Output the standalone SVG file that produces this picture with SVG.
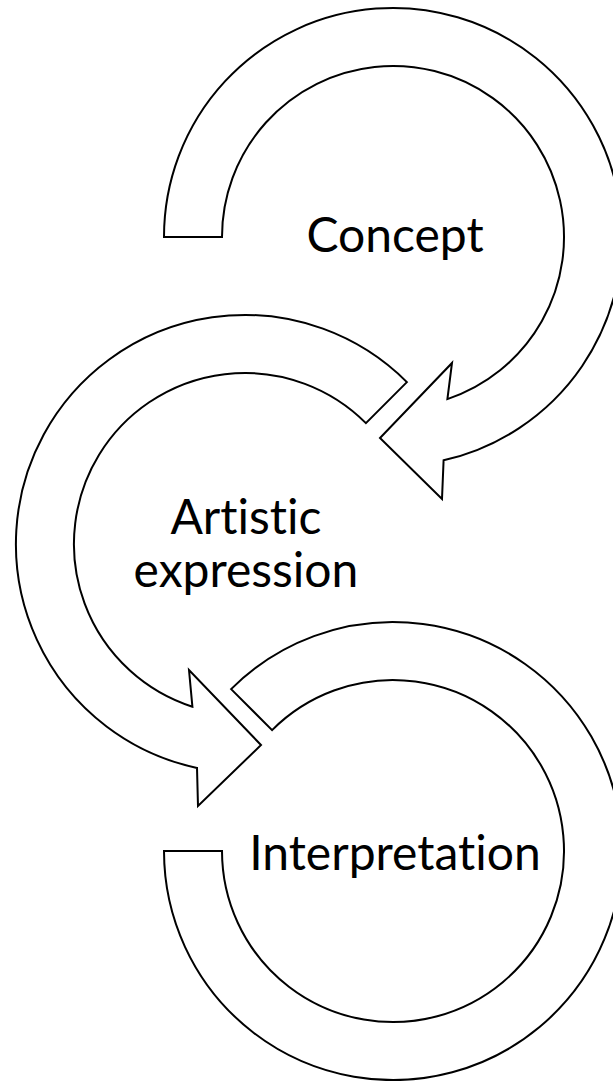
<svg xmlns="http://www.w3.org/2000/svg" width="613" height="1081" viewBox="0 0 613 1081">
  <style>
    .arrow { fill: #ffffff; stroke: #000000; stroke-width: 2; stroke-linejoin: miter; }
    .label { font-family: "Lato", "Noto Sans", "Liberation Sans", sans-serif; font-size: 48px; fill: #000000; text-anchor: middle; font-variant-ligatures: none; font-feature-settings: "liga" 0, "clig" 0; }
  </style>
  <rect width="613" height="1081" fill="#ffffff"/>
  <g id="node-concept">
    <path class="arrow" d="M164,237 A229,229 0 1 1 443.6,460.3 L442,499 L380,438 L452,363 L447.4,399.1 A171,171 0 1 0 222,237 Z"/>
    <text class="label" x="395" y="252">Concept</text>
  </g>
  <g id="node-artistic-expression">
    <path class="arrow" d="M406.9,382.1 A229,229 0 1 0 197,767.9 L198,806 L261,745 L189,670 L192.4,706.7 A171,171 0 1 1 365.9,423.1 Z"/>
    <text class="label" x="246" y="534">Artistic</text>
    <text class="label" x="246" y="587">expression</text>
  </g>
  <g id="node-interpretation">
    <path class="arrow" d="M231.1,689.1 A229,229 0 1 1 164,851 L222,851 A171,171 0 1 0 272.1,730.1 Z"/>
    <text class="label" x="395" y="870">Interpretation</text>
  </g>
  <g id="connectors"/>
</svg>
